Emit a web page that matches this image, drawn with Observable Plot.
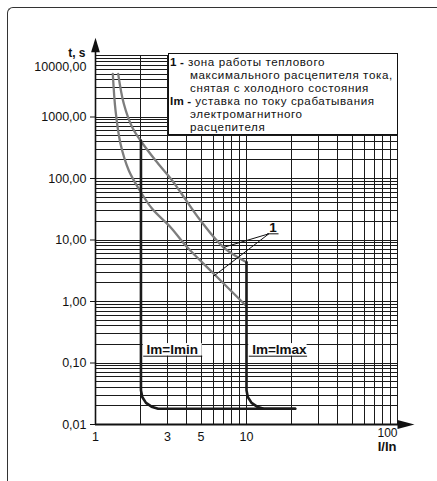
<!DOCTYPE html>
<html>
<head>
<meta charset="utf-8">
<script src="https://cdn.jsdelivr.net/npm/d3@7"></script>
<script src="https://cdn.jsdelivr.net/npm/@observablehq/plot@0.6"></script>
<style>
  html, body { margin: 0; padding: 0; background: #fff; overflow: hidden; }
  #wrap { position: relative; width: 437px; height: 481px; }
  #chart { position: absolute; left: 0; top: 0; }
  #border { position: absolute; left: 7px; top: 7px; width: 600px; height: 600px;
    border-left: 1.5px solid #333; border-top: 1.5px solid #333; border-top-left-radius: 6px; pointer-events: none; }
  #legend { position: absolute; left: 168px; top: 53px; width: 230px; height: 82px; box-sizing: border-box;
    background: #fff; border: 1px solid #111; font-family: "Liberation Sans", Arial, sans-serif;
    font-size: 11.6px; line-height: 13px; letter-spacing: 0.6px; color: #111; white-space: nowrap; padding-top: 1px; }
  #legend .e { padding-left: 21px; text-indent: -20px; }
  #legend b { letter-spacing: 0.2px; }
</style>
</head>
<body>
<div id="wrap">
  <div id="chart"></div>
  <div id="border"></div>
  <div id="legend"></div>
</div>
<script>
// ---- Data ----
// grid values
const xGrid = [1, 2, 3, 4, 5, 6, 7, 8, 9, 10, 20, 30, 40, 50, 60, 70, 80, 90, 100];
const yGrid = [
  0.01, 0.02, 0.03, 0.04, 0.05, 0.06, 0.07, 0.08, 0.09,
  0.1, 0.2, 0.3, 0.4, 0.5, 0.6, 0.7, 0.8, 0.9,
  1, 2, 3, 4, 5, 6, 7, 8, 9,
  10, 20, 30, 40, 50, 60, 70, 80, 90,
  100, 200, 300, 400, 500, 600, 700, 800, 900,
  1000, 2000, 3000, 4000, 5000, 6000, 7000, 8000, 9000,
  10000
];
// tick labels
const xTicks = [1, 3, 5, 10];
const xTickLabels = ["1", "3", "5", "10"];
const xLastTick = [100];
const xLastTickLabel = ["100"];
const yTicks = [0.01, 0.1, 1, 10, 100, 1000];
const yTickLabels = ["0,01", "0,10", "1,00", "10,00", "100,00", "1000,00"];
const yTopTickLabel = ["10000,00"];
const xAxisTitle = ["I/In"];
const yAxisTitle = ["t, s"];
// axis ends (arrow positions, in data units)
const yAxisTipT = [14800];
const xAxisTipI = [113.8];

// thermal release zone (two boundary curves), I/In vs t,s
const thermalUpperI = [1.413, 1.54, 1.75, 1.986, 2.50, 3.22, 3.66, 4.96, 7.04, 10];
const thermalUpperT = [5040, 1640, 682, 415, 196, 92.7, 59.8, 20.7, 7.6, 4.35];
const thermalLowerI = [1.302, 1.357, 1.464, 1.662, 1.935, 2.374, 3.14, 4.05, 6.05, 9.9];
const thermalLowerT = [5040, 1276, 367, 135, 68, 32.1, 16.1, 7.6, 2.85, 0.86];

// electromagnetic release (Im = Imin, Im = Imax)
const magMinI = [2, 2, 2.04, 2.16, 2.35, 2.6, 21];
const magMinT = [415, 0.036, 0.028, 0.0225, 0.0195, 0.018, 0.018];
const magMaxI = [10, 10, 10.2, 10.8, 11.75, 13, 21];
const magMaxT = [4.35, 0.036, 0.028, 0.0225, 0.0195, 0.018, 0.018];

// annotations
const magLabels = ["Im=Imin", "Im=Imax"];
const magLabelI = [2.18, 10.9];
const magLabelT = [0.163, 0.163];
const magLineFromI = [2.07, 10.35];
const magLineToI = [5.09, 25.2];
const magLineT = [0.129, 0.129];
const magBoxTopT = [0.207, 0.207];

const zoneLabel = ["1"];
const zoneLabelI = [15.0];
const zoneLabelT = [15.6];
const zoneUnderFromI = [13.7];
const zoneUnderToI = [16.3];
const zoneUnderT = [12.6];
const leaderToI = [7.07, 6.02];
const leaderToT = [7.6, 2.55];

const legendKeys = ["1 -", "Im -"];
const legendLines = [
  ["зона работы теплового", "максимального расцепителя тока,", "снятая с холодного состояния"],
  ["уставка по току срабатывания", "электромагнитного", "расцепителя"]
];

// ---- Build tables ----
const zip = (xs, ys) => xs.map((x, i) => ({x, y: ys[i]}));
const upper = zip(thermalUpperI, thermalUpperT);
const lower = zip(thermalLowerI, thermalLowerT);
const magMin = zip(magMinI, magMinT);
const magMax = zip(magMaxI, magMaxT);
const magAnn = magLabels.map((t, i) => ({
  text: t, x: magLabelI[i], y: magLabelT[i], x1: magLineFromI[i], x2: magLineToI[i],
  yl: magLineT[i], ytop: magBoxTopT[i]
}));
const leaders = leaderToI.map((x, i) => ({x1: zoneUnderFromI[0] + 0.35, y1: zoneUnderT[0], x2: x, y2: leaderToT[i]}));

const font = "'Liberation Sans', Arial, sans-serif";
const gridColor = "#1a1a1a";
const upArrow = {draw(ctx) { ctx.moveTo(0, -7.3); ctx.lineTo(4.4, 7.3); ctx.lineTo(-4.4, 7.3); ctx.closePath(); }};
const rightArrow = {draw(ctx) { ctx.moveTo(8.5, 0); ctx.lineTo(-8.5, -4.4); ctx.lineTo(-8.5, 4.4); ctx.closePath(); }};

const chart = Plot.plot({
  width: 437,
  height: 481,
  marginLeft: 95,
  marginRight: 40,
  marginTop: 55,
  marginBottom: 57,
  style: {fontFamily: font, fontSize: "12.5px", color: "#111", background: "transparent"},
  x: {type: "log", domain: [1, 100], ticks: xTicks, tickFormat: d => xTickLabels[xTicks.indexOf(d)],
      tickSize: 0, tickPadding: 8, label: null},
  y: {type: "log", domain: [0.01, 10000], ticks: yTicks, tickFormat: d => yTickLabels[yTicks.indexOf(d)],
      tickSize: 5, tickPadding: 4, label: null},
  marks: [
    Plot.ruleX(xGrid, {stroke: gridColor, strokeWidth: 1, shapeRendering: "crispEdges"}),
    Plot.ruleY(yGrid, {stroke: gridColor, strokeWidth: 1, shapeRendering: "crispEdges"}),
    // white label backgrounds
    Plot.rect(magAnn, {x1: "x1", x2: "x2", y1: "yl", y2: "ytop", fill: "white"}),
    // thermal curves
    Plot.line(upper, {x: "x", y: "y", stroke: "#7d7d7d", strokeWidth: 2.3, curve: "catmull-rom"}),
    Plot.line(lower, {x: "x", y: "y", stroke: "#7d7d7d", strokeWidth: 2.3, curve: "catmull-rom"}),
    // electromagnetic release
    Plot.line(magMin, {x: "x", y: "y", stroke: "#1a1a1a", strokeWidth: 2.6, strokeLinejoin: "round"}),
    Plot.line(magMax, {x: "x", y: "y", stroke: "#1a1a1a", strokeWidth: 2.6, strokeLinejoin: "round"}),
    // axes lines + arrows
    Plot.ruleX([1], {y1: () => 0.01, y2: () => yAxisTipT[0], stroke: "#111", strokeWidth: 1.6}),
    Plot.ruleY([0.01], {x1: () => 1, x2: () => xAxisTipI[0], stroke: "#111", strokeWidth: 1.8}),
    Plot.dot(yAxisTipT, {x: () => 1, y: d => d, symbol: upArrow, fill: "#111", stroke: null}),
    Plot.dot(xAxisTipI, {x: d => d, y: () => 0.01, symbol: rightArrow, fill: "#111", stroke: null}),
    // annotation: Im labels
    Plot.link(magAnn, {x1: "x1", x2: "x2", y1: "yl", y2: "yl", stroke: "#111", strokeWidth: 1}),
    Plot.text(magAnn, {x: "x", y: "y", text: "text", textAnchor: "start", fontWeight: "bold",
      fontSize: 13.5, fill: "#111"}),
    // annotation "1"
    Plot.link(zoneUnderFromI, {x1: d => d, x2: () => zoneUnderToI[0], y1: () => zoneUnderT[0], y2: () => zoneUnderT[0],
      stroke: "#111", strokeWidth: 1}),
    Plot.link(leaders, {x1: "x1", y1: "y1", x2: "x2", y2: "y2", stroke: "#111", strokeWidth: 1}),
    Plot.text(zoneLabel, {x: () => zoneLabelI[0], y: () => zoneLabelT[0], text: d => d, fontWeight: "bold",
      fontSize: 13.5, fill: "#111"}),
    // extra tick labels / titles
    Plot.text(xLastTickLabel, {x: (d, i) => xLastTick[i], frameAnchor: "bottom", textAnchor: "end", dy: 12,
      text: d => d, fontSize: 12, fill: "#111"}),
    Plot.text(yTopTickLabel, {frameAnchor: "top-left", textAnchor: "end", dx: -9, dy: 7,
      text: d => d, fontSize: 12.5, fill: "#111"}),
    Plot.text(xAxisTitle, {frameAnchor: "bottom-right", textAnchor: "end", dy: 26.5, dx: -1,
      text: d => d, fontSize: 13, fontWeight: "bold", fill: "#111"}),
    Plot.text(yAxisTitle, {frameAnchor: "top-left", textAnchor: "end", dx: -10, dy: -7,
      text: d => d, fontSize: 12, fontWeight: "bold", fill: "#111"})
  ]
});
document.getElementById("chart").appendChild(chart);

// legend box
const legend = document.getElementById("legend");
legendKeys.forEach((k, i) => {
  const e = document.createElement("div");
  e.className = "e";
  const b = document.createElement("b");
  b.textContent = k;
  e.appendChild(b);
  e.appendChild(document.createTextNode(" " + legendLines[i][0]));
  legendLines[i].slice(1).forEach(line => {
    e.appendChild(document.createElement("br"));
    e.appendChild(document.createTextNode(line));
  });
  legend.appendChild(e);
});
</script>
</body>
</html>
